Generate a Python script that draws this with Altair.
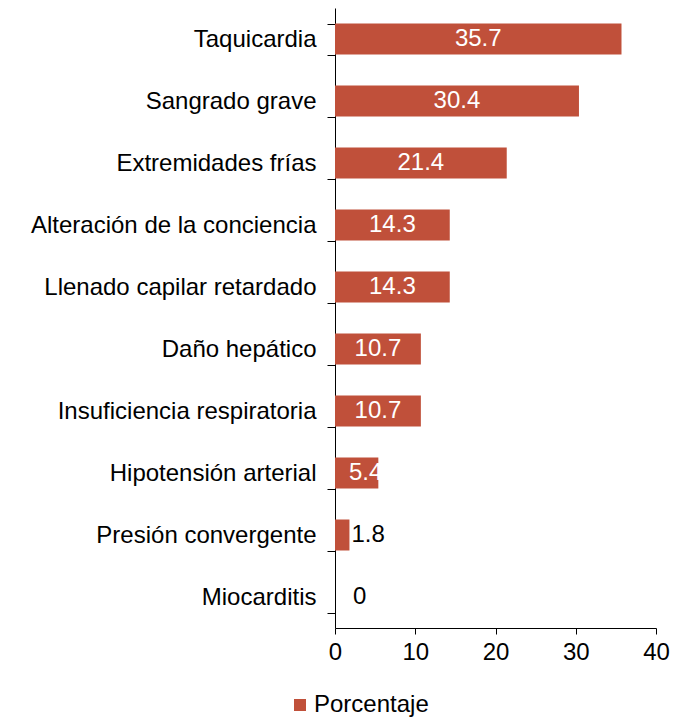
import altair as alt
import pandas as pd

categories = [
    "Taquicardia",
    "Sangrado grave",
    "Extremidades frías",
    "Alteración de la conciencia",
    "Llenado capilar retardado",
    "Daño hepático",
    "Insuficiencia respiratoria",
    "Hipotensión arterial",
    "Presión convergente",
    "Miocarditis",
]
values = [35.7, 30.4, 21.4, 14.3, 14.3, 10.7, 10.7, 5.4, 1.8, 0]
label_group = ["in", "in", "in", "in", "in", "in", "in", "edge", "out", "zero"]

df = pd.DataFrame({
    "cat": categories,
    "val": values,
    "grp": label_group,
    "serie": ["Porcentaje"] * len(values),
})
df["txt"] = df["val"].map(lambda v: f"{v:g}")

FONT = "Liberation Sans"
FS = 24
COLOR = "#C0503A"

y_enc = alt.Y("cat:N", sort=categories, title=None,
              scale=alt.Scale(paddingInner=0.5, paddingOuter=0.25),
              axis=alt.Axis(labelFont=FONT, labelFontSize=FS, labelColor="black",
                            domainColor="black", tickColor="black", tickSize=8,
                            labelPadding=11, tickBand="extent", labelLimit=400))
x_enc = alt.X("val:Q", title=None,
              scale=alt.Scale(domain=[0, 40], nice=False),
              axis=alt.Axis(values=[0, 10, 20, 30, 40], grid=False,
                            labelFont=FONT, labelFontSize=FS, labelColor="black",
                            domainColor="black", tickColor="black", tickSize=6,
                            labelPadding=6, labelFlush=False))

base = alt.Chart(df)

bars = base.mark_bar(color=COLOR).encode(
    y=y_enc,
    x=x_enc,
    color=alt.Color("serie:N", title=None,
                    scale=alt.Scale(range=[COLOR]),
                    legend=alt.Legend(orient="none", legendX=-47, legendY=685,
                                      symbolType="square", symbolSize=144,
                                      symbolStrokeWidth=0, labelFont=FONT,
                                      labelFontSize=FS, labelColor="black",
                                      labelOffset=2, padding=0)),
)

inside = base.transform_filter("datum.grp == 'in'").transform_calculate(
    mid="datum.val / 2").mark_text(
    font=FONT, fontSize=FS, color="white", align="center", baseline="middle"
).encode(y=alt.Y("cat:N", sort=categories), x=alt.X("mid:Q"), text="txt:N")

edge = base.transform_filter("datum.grp == 'edge'").transform_calculate(
    mid="datum.val / 2").mark_text(
    font=FONT, fontSize=FS, color="white", align="center", baseline="middle", dx=9
).encode(y=alt.Y("cat:N", sort=categories), x=alt.X("mid:Q"), text="txt:N")

outside = base.transform_filter("datum.grp == 'out'").mark_text(
    font=FONT, fontSize=FS, color="black", align="left", baseline="middle", dx=2
).encode(y=alt.Y("cat:N", sort=categories), x=alt.X("val:Q"), text="txt:N")

zero = base.transform_filter("datum.grp == 'zero'").mark_text(
    font=FONT, fontSize=FS, color="black", align="left", baseline="middle", dx=18
).encode(y=alt.Y("cat:N", sort=categories), x=alt.X("val:Q"), text="txt:N")

chart = alt.layer(bars, inside, edge, outside, zero).properties(
    width=321, height=620,
    padding={"left": 327, "top": 0, "right": 20, "bottom": 90},
    autosize=alt.AutoSizeParams(type="none"),
    background="white",
).configure_view(stroke=None)

chart.save("out.html", embed_options={"renderer": "svg", "actions": False})
